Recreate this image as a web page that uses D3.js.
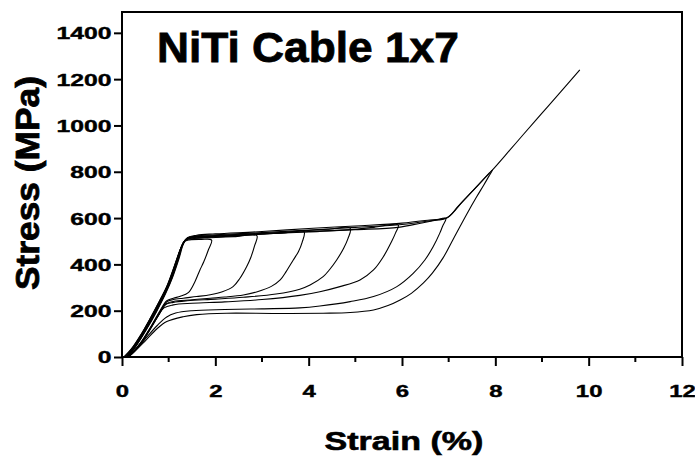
<!DOCTYPE html>
<html>
<head>
<meta charset="utf-8">
<script src="https://d3js.org/d3.v7.min.js"></script>
<style>
  body { margin: 0; background: #fff; }
  text { font-family: "Liberation Sans", Arial, sans-serif; font-weight: bold; fill: #000; stroke: #000; stroke-width: 0.4; }
</style>
</head>
<body>
<div id="chart"></div>
<script>
// tick values
const xTicks = [0, 2, 4, 6, 8, 10, 12];
const xMinor = [1, 3, 5, 7, 9, 11];
const yTicks = [0, 200, 400, 600, 800, 1000, 1200, 1400];

// [strain %, stress MPa], load then unload
const cycle1 = [[0.04,0],[0.2,35],[0.4,95],[0.6,165],[0.8,240],[0.95,300],[1.1,380],[1.25,465],[1.33,498],[1.45,506],[1.7,508],[1.92,505],
  [1.85,462],[1.75,410],[1.67,376],[1.55,320],[1.42,278],[1.25,262],[1.1,254],[0.96,243],[0.8,195],[0.6,125],[0.4,62],[0.2,15],[0.1,0]];
const cycle2 = [[0.06,0],[0.22,38],[0.42,100],[0.62,172],[0.82,248],[0.97,308],[1.12,390],[1.26,470],[1.35,503],[1.5,511],[1.9,515],[2.4,520],[2.89,524],
  [2.84,480],[2.76,430],[2.67,390],[2.52,338],[2.38,304],[2.15,282],[1.89,269],[1.6,261],[1.31,254],[1.1,248],[0.96,238],[0.8,190],[0.6,122],[0.4,60],[0.2,14],[0.1,0]];
const cycle3 = [[0.08,0],[0.24,40],[0.44,104],[0.64,176],[0.84,252],[0.99,315],[1.14,398],[1.27,474],[1.36,506],[1.55,514],[2,518],[2.5,524],[3,530],[3.5,537],[3.9,542],
  [3.86,495],[3.78,455],[3.67,419],[3.52,370],[3.39,333],[3.2,305],[2.9,282],[2.6,268],[2.2,259],[1.89,254],[1.5,247],[1.1,240],[0.95,230],[0.8,186],[0.6,118],[0.4,57],[0.2,12],[0.1,0]];
const cycle4 = [[0.09,0],[0.26,42],[0.46,108],[0.66,180],[0.86,256],[1.0,318],[1.15,402],[1.28,478],[1.37,508],[1.6,517],[2,521],[2.5,526],[3,531],[3.5,537],[3.9,545],[4.4,552],[4.89,556],
  [4.84,510],[4.75,470],[4.6,419],[4.45,378],[4.31,347],[4.03,311],[3.81,293],[3.3,272],[2.6,258],[2.0,250],[1.4,243],[1.1,236],[0.93,226],[0.78,180],[0.6,120],[0.4,56],[0.2,12],[0.1,0]];
const cycle5 = [[0.1,0],[0.27,44],[0.48,112],[0.68,184],[0.88,262],[1.02,324],[1.16,406],[1.29,482],[1.38,510],[1.6,519],[2,523],[3,532],[4,540],[4.89,550],[5.4,560],[5.92,570],
  [5.86,535],[5.78,500],[5.6,433],[5.39,376],[5.1,333],[4.67,304],[4.24,282],[3.81,266],[3.0,248],[2.2,238],[1.5,232],[1.1,225],[0.9,212],[0.75,170],[0.58,115],[0.4,58],[0.2,12],[0.12,0]];
const cycle6 = [[0.11,0],[0.28,45],[0.5,115],[0.7,188],[0.9,266],[1.04,330],[1.18,412],[1.3,486],[1.39,512],[1.6,521],[2,525],[3,534],[4,542],[5,550],[5.92,560],[6.4,578],[6.7,590],[6.94,599],
  [6.87,565],[6.81,535],[6.67,477],[6.49,419],[6.24,361],[5.89,304],[5.39,261],[4.89,239],[4.24,220],[3.81,212],[3.0,208],[2.2,205],[1.5,200],[1.15,190],[0.95,172],[0.75,135],[0.55,90],[0.35,42],[0.15,5],[0.12,0]];
const cycle7 = [[0.12,0],[0.3,48],[0.52,120],[0.72,192],[0.92,272],[1.06,336],[1.2,418],[1.31,488],[1.4,514],[1.6,523],[2,528],[3,537],[4,548],[5,560],[6,572],[6.6,588],[6.96,600],[7.2,650],[7.5,714],[7.94,808],
  [7.86,780],[7.75,742],[7.6,692],[7.39,618],[7.1,510],[6.88,428],[6.65,362],[6.46,320],[6.2,275],[5.96,246],[5.7,222],[5.39,203],[4.89,192],[4.31,189],[3.3,188],[2.24,189],[1.6,183],[1.31,174],[0.96,153],[0.75,122],[0.5,70],[0.25,20],[0.13,0]];
const cycle8 = [[0.13,0],[0.31,50],[0.54,124],[0.74,196],[0.94,276],[1.08,342],[1.22,424],[1.32,490],[1.41,516],[1.6,526],[2,532],[3,542],[4,555],[5,566],[6,578],[6.6,592],[6.97,602],[7.3,672],[7.6,736],[7.94,808],
  [8.3,891],[8.6,961],[9.0,1053],[9.4,1145],[9.81,1240]];
const cycles = [cycle1, cycle2, cycle3, cycle4, cycle5, cycle6, cycle7, cycle8];

const W = 695, H = 461;
const margin = {top: 12, right: 13, bottom: 104, left: 122};
const w = W - margin.left - margin.right;
const h = H - margin.top - margin.bottom;

const svg = d3.select("#chart").append("svg")
    .attr("width", W)
    .attr("height", H);

const g = svg.append("g")
    .attr("transform", `translate(${margin.left},${margin.top})`);

const x = d3.scaleLinear().domain([0, 12]).range([0, w]);
const y = d3.scaleLinear().domain([0, 1490]).range([h, 0]);

// curves
const line = d3.line().x(d => x(d[0])).y(d => y(d[1])).curve(d3.curveCatmullRom.alpha(0.5));
g.selectAll(".cycle")
  .data(cycles)
  .join("path")
    .attr("class", "cycle")
    .attr("d", line)
    .attr("fill", "none")
    .attr("stroke", "#000")
    .attr("stroke-width", 1.1);

// frame
g.append("rect")
    .attr("width", w)
    .attr("height", h)
    .attr("fill", "none")
    .attr("stroke", "#000")
    .attr("stroke-width", 2);

// x axis
const xAxis = g.append("g")
    .attr("transform", `translate(0,${h})`)
    .call(d3.axisBottom(x).tickValues(xTicks).tickSize(9).tickFormat(d3.format("d")));
xAxis.select(".domain").remove();
xAxis.selectAll(".tick line").attr("stroke-width", 2);
xAxis.selectAll(".tick text")
    .attr("y", 40).attr("dy", 0)
    .attr("font-size", 16.5)
    .attr("transform", "scale(1.45,1)");

g.append("g")
    .attr("transform", `translate(0,${h})`)
    .selectAll("line")
    .data(xMinor)
    .join("line")
      .attr("x1", d => x(d)).attr("x2", d => x(d))
      .attr("y1", 0).attr("y2", 5)
      .attr("stroke", "#000")
      .attr("stroke-width", 2);

// y axis
const yAxis = g.append("g")
    .call(d3.axisLeft(y).tickValues(yTicks).tickSize(8).tickFormat(d3.format("d")));
yAxis.select(".domain").remove();
yAxis.selectAll(".tick line").attr("stroke-width", 2);
yAxis.selectAll(".tick text")
    .attr("x", -7).attr("dy", "0.36em")
    .attr("font-size", 16.5)
    .attr("transform", "scale(1.5,1)");

// title and axis titles
svg.append("text")
    .attr("transform", "translate(157,62) scale(1.03,1)")
    .attr("font-size", 43)
    .style("stroke-width", 0.8)
    .text("NiTi Cable 1x7");

svg.append("text")
    .attr("transform", "translate(404,450) scale(1.33,1)")
    .attr("text-anchor", "middle")
    .attr("font-size", 25.6)
    .style("stroke-width", 0.6)
    .text("Strain (%)");

svg.append("text")
    .attr("transform", "translate(39,183) rotate(-90) scale(1.38,1.33)")
    .attr("text-anchor", "middle")
    .attr("font-size", 25.6)
    .style("stroke-width", 0.6)
    .text("Stress (MPa)");
</script>
</body>
</html>
